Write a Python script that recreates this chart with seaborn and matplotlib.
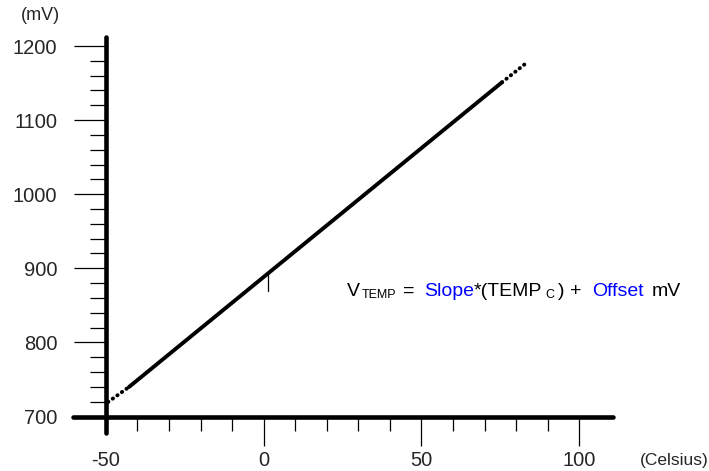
import numpy as np
import pandas as pd
import seaborn as sns
import matplotlib.pyplot as plt

# transfer curve (solid part + dotted ends)
temp_low = [-49.3, -42.7]
vtemp_low = [719.6, 739.8]
temp_mid = [-42.7, 75.5]
vtemp_mid = [739.8, 1151.0]
temp_high = [75.5, 83.4]
vtemp_high = [1151.0, 1177.7]

# small cursor mark under the line near 0 C
cursor_temp = [1.4, 1.4]
cursor_v = [893.5, 869.5]

# ticks
x_major = [-50, 0, 50, 100]
x_major_labels = ["-50", "0", "50", "100"]
x_minor = [-40, -30, -20, -10, 10, 20, 30, 40, 60, 70, 80, 90]
y_major = [700, 800, 900, 1000, 1100, 1200]
y_major_labels = ["700", "800", "900", "1000", "1100", "1200"]
y_minor = [v for v in range(720, 1200, 20) if v % 100]

# equation pieces
eq_parts = ["V", "TEMP", "=", "Slope", "*(TEMP", "C", ")", "+", "Offset", "mV"]

sns.set_style("ticks")
plt.rcParams["font.family"] = ["Liberation Sans", "DejaVu Sans"]

W, H = 709, 471
fig = plt.figure(figsize=(W / 100, H / 100), dpi=100)
ax = fig.add_axes([0, 0, 1, 1])
ax.patch.set_alpha(0)

# draw the curve
sns.lineplot(x=temp_mid, y=vtemp_mid, ax=ax, color="black", linewidth=2.8)
dots = (0, (0.1, 1.35))
sns.lineplot(x=temp_low, y=vtemp_low, ax=ax, color="black", linewidth=2.8,
             linestyle=dots, dash_capstyle="round")
sns.lineplot(x=temp_high, y=vtemp_high, ax=ax, color="black", linewidth=2.8,
             linestyle=dots, dash_capstyle="round")
ax.plot(cursor_temp, cursor_v, color="black", linewidth=0.9)

# limits chosen so the axes fill the whole picture
ax.set_xlim(-83.56, 141.1)
ax.set_ylim(626.45, 1262.1)

# axis lines crossing at (-50, 700)
for s in ["top", "right"]:
    ax.spines[s].set_visible(False)
ax.spines["left"].set_position(("data", -50))
ax.spines["bottom"].set_position(("data", 700))
ax.spines["left"].set_bounds(678, 1212)
ax.spines["bottom"].set_bounds(-60.4, 110.7)
for s in ["left", "bottom"]:
    ax.spines[s].set_linewidth(3.3)
    ax.spines[s].set_color("black")
    ax.spines[s].set_capstyle("round")

ax.set_xticks(x_major)
ax.set_xticklabels(x_major_labels)
ax.set_xticks(x_minor, minor=True)
ax.set_yticks(y_major)
ax.set_yticklabels(y_major_labels)
ax.set_yticks(y_minor, minor=True)

ax.tick_params(axis="x", which="major", bottom=True, direction="out", length=21.2,
               width=0.9, color="black", labelsize=14.5, pad=3.8)
ax.tick_params(axis="x", which="minor", bottom=True, direction="out", length=10.4,
               width=0.9, color="black")
ax.tick_params(axis="y", which="major", left=True, direction="out", length=23.4,
               width=0.9, color="black", labelsize=14.5, pad=11.5)
ax.tick_params(axis="y", which="minor", left=True, direction="out", length=11.4,
               width=0.9, color="black")
ax.xaxis.get_major_ticks()[0].tick1line.set_visible(False)
ax.set_xlabel("")
ax.set_ylabel("")

# unit labels
fig.text(40 / W, 1 - 15 / H, "(mV)", ha="center", va="center", fontsize=13)
fig.text(640 / W, 1 - 460 / H, "(Celsius)", ha="left", va="center", fontsize=12.5)

# equation, placed piece by piece
eq_x = [347, 362, 403, 424, 474, 545, 558, 570, 592, 652]
eq_sub = [False, True, False, False, False, True, False, False, False, False]
eq_blue = [False, False, False, True, False, False, False, False, True, False]
for txt, x, sub, blue in zip(eq_parts, eq_x, eq_sub, eq_blue):
    fig.text(x / W, 1 - (298 if sub else 296) / H, txt, ha="left", va="baseline",
             fontsize=9 if sub else 14, color="#0000ff" if blue else "black")

plt.savefig("out.png", dpi=100)
